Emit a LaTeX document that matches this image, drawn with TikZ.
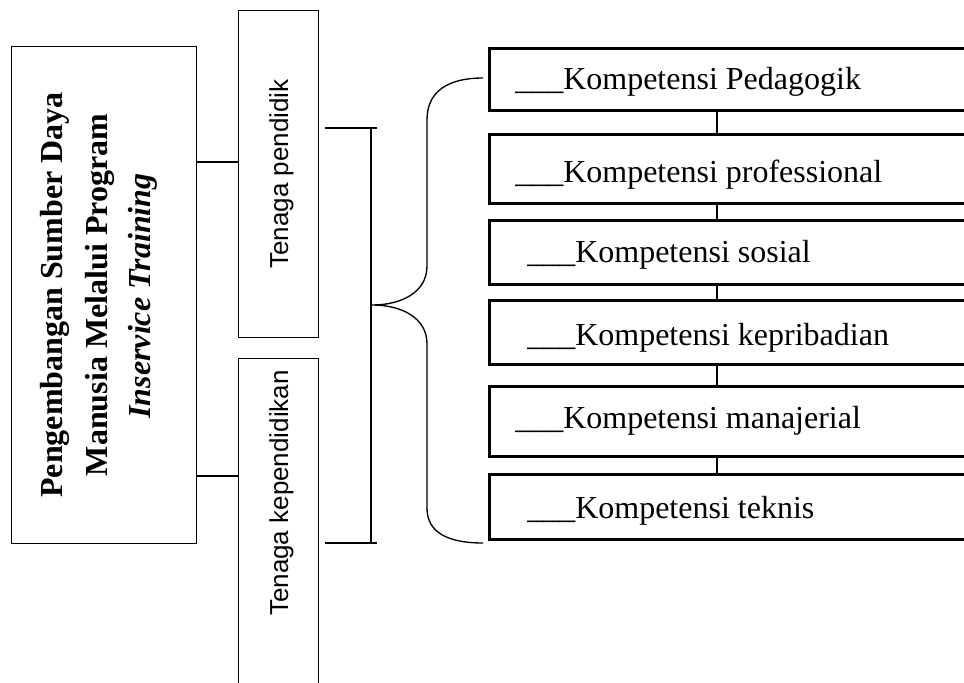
\documentclass[tikz,border=0pt]{standalone}
\usepackage{fontspec}
\setmainfont{Liberation Serif}
\setsansfont{Liberation Sans}
\begin{document}
\begin{tikzpicture}[x=0.75pt,y=-0.75pt,
  thinline/.style={line width=1pt},
  thickline/.style={line width=2pt},
  thinbox/.style={draw, line width=1pt, inner sep=0pt, anchor=north west},
  compbox/.style={draw, line width=2pt, inner sep=0pt, anchor=north west, minimum width=384pt},
  complbl/.style={font=\fontsize{24}{28}\selectfont, anchor=base west, inner sep=0pt},
  rottext/.style={rotate=90, anchor=base, inner sep=0pt},
  serifbig/.style={font=\bfseries\fontsize{24}{28}\selectfont},
  sansmid/.style={font=\sffamily\fontsize{19.5}{23}\selectfont}]
\useasboundingbox (0,0) rectangle (964,682);
\clip (0,0) rectangle (964,682);
\fill[white] (0,0) rectangle (964,682);

% left main box
\node[thinbox, minimum width=138.75pt, minimum height=372.75pt] (L) at (11,46) {};
\node[rottext, serifbig] (t1) at (62,295) {Pengembangan Sumber Daya};
\node[rottext, serifbig] (t2) at (107,295) {Manusia Melalui Program};
\node[rottext, serifbig, font=\bfseries\itshape\fontsize{24}{28}\selectfont] (t3) at (150,296) {Inservice Training};

% middle boxes
\node[thinbox, minimum width=60pt, minimum height=245.25pt] (TP) at (238,10) {};
\node[rottext, sansmid] (tp) at (288,174) {Tenaga pendidik};
\node[thinbox, minimum width=60pt, minimum height=256.5pt] (TK) at (238,358) {};
\node[rottext, sansmid] (tk) at (288,493) {Tenaga kependidikan};

\coordinate (c1) at (0,162);
\coordinate (c2) at (0,476);
\draw[thinline] (L.east |- c1) -- (TP.west |- c1);
\draw[thinline] (L.east |- c2) -- (TK.west |- c2);

% bracket
\coordinate (bt1) at (325,128); \coordinate (bt2) at (377,128);
\coordinate (bb1) at (325,543); \coordinate (bb2) at (377,543);
\coordinate (bv1) at (371,128); \coordinate (bv2) at (371,543);
\draw[thinline] (bt1) -- (bt2);
\draw[thinline] (bb1) -- (bb2);
\draw[thinline] (bv1) -- (bv2);

% brace
\coordinate (brtop) at (483,78);
\coordinate (brmid) at (372,305);
\coordinate (brbot) at (483,543);
\draw[thinline] (brtop) .. controls (447,78) and (427,92) .. (427,120)
  -- (427,266) .. controls (427,292) and (402,305) .. (brmid)
  .. controls (402,305) and (427,318) .. (427,344)
  -- (427,508) .. controls (427,532) and (447,543) .. (brbot);

% competence boxes
\node[compbox, minimum height=46.5pt] (k1) at (488,47) {};
\node[compbox, minimum height=51.75pt] (k2) at (488,133) {};
\node[compbox, minimum height=48pt] (k3) at (488,219) {};
\node[compbox, minimum height=48pt] (k4) at (488,299) {};
\node[compbox, minimum height=52.5pt] (k5) at (488,385) {};
\node[compbox, minimum height=48.75pt] (k6) at (488,473) {};

\node[complbl] (l1) at (515,89) {\_\_\_Kompetensi Pedagogik};
\node[complbl] (l2) at (515,182) {\_\_\_Kompetensi professional};
\node[complbl] (l3) at (527,262) {\_\_\_Kompetensi sosial};
\node[complbl] (l4) at (527,345) {\_\_\_Kompetensi kepribadian};
\node[complbl] (l5) at (515,428) {\_\_\_Kompetensi manajerial};
\node[complbl] (l6) at (527,518) {\_\_\_Kompetensi teknis};

\coordinate (cx) at (717,0);
\draw[thickline] (k1.south -| cx) -- (k2.north -| cx);
\draw[thickline] (k2.south -| cx) -- (k3.north -| cx);
\draw[thickline] (k3.south -| cx) -- (k4.north -| cx);
\draw[thickline] (k4.south -| cx) -- (k5.north -| cx);
\draw[thickline] (k5.south -| cx) -- (k6.north -| cx);
\end{tikzpicture}
\end{document}
